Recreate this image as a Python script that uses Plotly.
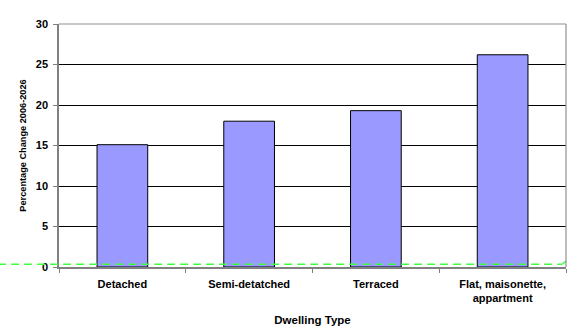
import plotly.graph_objects as go

# Dwelling types and projected percentage change 2006-2026
categories = ["Detached", "Semi-detatched", "Terraced", "Flat, maisonette,<br>appartment"]
pct_change = [15.1, 18.0, 19.3, 26.2]

# Reference level drawn as a dashed green line
ref_level = 0.35
ref_end_level = 0.75

y_ticks = [0, 5, 10, 15, 20, 25, 30]

font_family = "Liberation Sans, Arial, sans-serif"

fig = go.Figure()
fig.add_trace(go.Bar(
    x=categories,
    y=pct_change,
    marker=dict(color="#9999FF", line=dict(color="#000000", width=1)),
    width=0.4,
    hoverinfo="x+y",
))

# Dashed green reference line, running past the left edge of the plot
fig.add_shape(type="line", xref="paper", yref="y",
              x0=-0.12, x1=0.993, y0=ref_level, y1=ref_level,
              line=dict(color="#40FF40", width=1.5, dash="8px,5px"), layer="above")
fig.add_shape(type="line", xref="paper", yref="y",
              x0=0.993, x1=1.0, y0=ref_level, y1=ref_end_level,
              line=dict(color="#40FF40", width=1.5), layer="above")

fig.update_layout(
    width=573, height=326,
    margin=dict(l=59, r=7, t=24, b=59),
    paper_bgcolor="white",
    plot_bgcolor="white",
    showlegend=False,
    bargap=0.6,
    font=dict(family=font_family, size=11, color="#000000"),
)

fig.update_xaxes(
    type="category",
    automargin=False,
    tickson="boundaries",
    ticks="outside", ticklen=4, tickcolor="#808080",
    ticklabelstandoff=6,
    showline=True, linecolor="#808080", linewidth=1.5,
    mirror=False,
    showgrid=False,
    tickfont=dict(family=font_family, size=11, color="#000000", weight="bold"),
    title=dict(text="<b>Dwelling Type</b>", font=dict(family=font_family, size=11.5), standoff=14),
)

fig.update_yaxes(
    range=[0, 30],
    automargin=False,
    tickvals=y_ticks,
    ticks="outside", ticklen=4, tickcolor="#808080",
    ticklabelstandoff=3,
    showline=True, linecolor="#808080", linewidth=1.5,
    showgrid=True, gridcolor="#000000", gridwidth=1,
    zeroline=False,
    tickfont=dict(family=font_family, size=11, color="#000000", weight="bold"),
    title=dict(text="<b>Percentage Change 2006-2026</b>", font=dict(family=font_family, size=9.2), standoff=8),
)

# Light grey frame on top and right of the plot area
fig.add_shape(type="line", xref="paper", yref="paper", x0=0, x1=1, y0=1, y1=1,
              line=dict(color="#909090", width=1.2))
fig.add_shape(type="line", xref="paper", yref="paper", x0=1, x1=1, y0=0, y1=1,
              line=dict(color="#909090", width=1.2))

fig.write_html("out.html")
